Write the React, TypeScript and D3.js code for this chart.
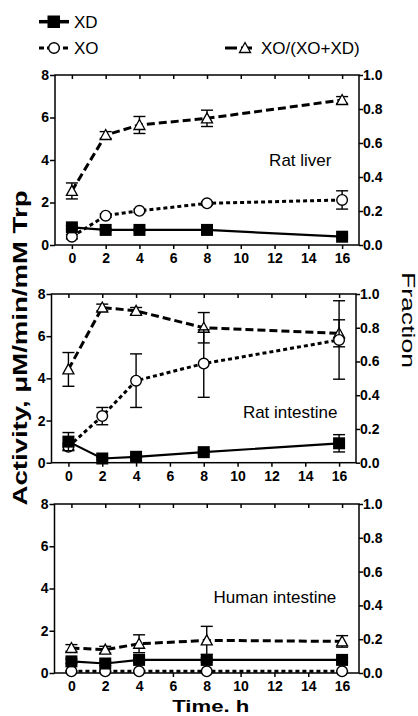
import React, { useEffect, useRef } from "react";
import * as d3 from "d3";

// time points (h) and axis ticks
const times = [0, 2, 4, 8, 16];
const xTicks = [0, 2, 4, 6, 8, 10, 12, 14, 16];
const activityTicks = [0, 2, 4, 6, 8];
const fractionTicks = [0, 0.2, 0.4, 0.6, 0.8, 1.0];

// Rat liver
const liverXD = [0.83, 0.71, 0.71, 0.71, 0.39];
const liverXDErr = [0.08, 0.05, 0.05, 0.05, 0.05];
const liverXO = [0.39, 1.38, 1.61, 1.96, 2.12];
const liverXOErr = [0.1, 0.08, 0.08, 0.08, 0.43];
const liverFrac = [0.318, 0.647, 0.706, 0.745, 0.853];
const liverFracErr = [0.047, 0.02, 0.05, 0.048, 0.02];

// Rat intestine
const ratIntXD = [1.0, 0.2, 0.28, 0.5, 0.92];
const ratIntXDErr = [0.43, 0.05, 0.05, 0.1, 0.41];
const ratIntXO = [0.76, 2.21, 3.89, 4.7, 5.82];
const ratIntXOErr = [0.15, 0.41, 1.27, 1.6, 1.86];
const ratIntFrac = [0.553, 0.92, 0.9, 0.8, 0.767];
const ratIntFracErr = [0.1, 0.02, 0.02, 0.09, 0.08];

// Human intestine
const humIntXD = [0.55, 0.45, 0.62, 0.62, 0.62];
const humIntXDErr = [0.1, 0.1, 0.1, 0.1, 0.1];
const humIntXO = [0.08, 0.08, 0.08, 0.08, 0.08];
const humIntXOErr = [0.02, 0.02, 0.02, 0.02, 0.02];
const humIntFrac = [0.148, 0.138, 0.173, 0.193, 0.187];
const humIntFracErr = [0.02, 0.02, 0.053, 0.083, 0.034];

const panelNames = ["Rat liver", "Rat intestine", "Human intestine"];

const panels = [
  {
    name: panelNames[0],
    xd: liverXD, xdErr: liverXDErr, xo: liverXO, xoErr: liverXOErr, fr: liverFrac, frErr: liverFracErr,
    box: { left: 55, right: 359, top: 75, bottom: 245 },
    labelAt: [15.37, 3.7],
    showTimeLabel: false,
  },
  {
    name: panelNames[1],
    xd: ratIntXD, xdErr: ratIntXDErr, xo: ratIntXO, xoErr: ratIntXOErr, fr: ratIntFrac, frErr: ratIntFracErr,
    box: { left: 51.5, right: 356, top: 294, bottom: 462.7 },
    labelAt: [15.9, 2.12],
    showTimeLabel: false,
  },
  {
    name: panelNames[2],
    xd: humIntXD, xdErr: humIntXDErr, xo: humIntXO, xoErr: humIntXOErr, fr: humIntFrac, frErr: humIntFracErr,
    box: { left: 54.5, right: 359, top: 504, bottom: 673 },
    labelAt: [15.66, 3.31],
    showTimeLabel: true,
  },
];

const FONT = "'Liberation Sans', Arial, Helvetica, sans-serif";

const triPath = (x: number, y: number, s = 5.5) =>
  `M${x},${y - s} L${x + s},${y + s * 0.82} L${x - s},${y + s * 0.82} Z`;

export default function App() {
  const ref = useRef<SVGSVGElement | null>(null);

  useEffect(() => {
    const svg = d3.select(ref.current);
    svg.selectAll("*").remove();

    panels.forEach((p) => {
      const { left, right, top, bottom } = p.box;
      const x = d3.scaleLinear().domain([-1, 17]).range([left, right]);
      const yA = d3.scaleLinear().domain([0, 8]).range([bottom, top]);
      const yF = d3.scaleLinear().domain([0, 1]).range([bottom, top]);

      const g = svg.append("g");

      // axes
      const styleAxis = (sel: any) => {
        sel.select(".domain").remove();
        sel.selectAll(".tick line").attr("stroke", "#000").attr("stroke-width", 1.5);
        sel.selectAll(".tick text")
          .attr("fill", "#000")
          .style("font-family", FONT)
          .style("font-weight", "bold")
          .style("font-size", "14px");
      };

      g.append("g")
        .attr("transform", `translate(${left},0)`)
        .call(d3.axisLeft(yA).tickValues(activityTicks).tickSize(5).tickPadding(1).tickFormat(d3.format("d")))
        .call(styleAxis);

      g.append("g")
        .attr("transform", `translate(${right},0)`)
        .call(d3.axisRight(yF).tickValues(fractionTicks).tickSize(4).tickPadding(0).tickFormat(d3.format(".1f")))
        .call(styleAxis);

      g.append("g")
        .attr("transform", `translate(0,${bottom})`)
        .call(d3.axisBottom(x).tickValues(xTicks).tickSize(4).tickPadding(4).tickFormat(d3.format("d")))
        .call(styleAxis);

      g.append("g")
        .attr("transform", `translate(0,${top})`)
        .call(d3.axisTop(x).tickValues(xTicks).tickSize(-4).tickFormat(() => ""))
        .call(styleAxis);

      g.append("rect")
        .attr("x", left).attr("y", top)
        .attr("width", right - left).attr("height", bottom - top)
        .attr("fill", "none").attr("stroke", "#000").attr("stroke-width", 1.5);

      const drawSeries = (
        vals: number[], errs: number[], y: d3.ScaleLinear<number, number>,
        dash: string | null, width: number, marker: "square" | "circle" | "triangle"
      ) => {
        const s = g.append("g");
        const cap = 6;
        times.forEach((t, i) => {
          const cx = x(t);
          const y1 = y(vals[i] + errs[i]);
          const y0 = y(vals[i] - errs[i]);
          s.append("line").attr("x1", cx).attr("x2", cx).attr("y1", y1).attr("y2", y0)
            .attr("stroke", "#000").attr("stroke-width", 1.4);
          [y1, y0].forEach((yy) => {
            s.append("line").attr("x1", cx - cap).attr("x2", cx + cap).attr("y1", yy).attr("y2", yy)
              .attr("stroke", "#000").attr("stroke-width", 1.4);
          });
        });

        const line = d3.line<number>().x((_, i) => x(times[i])).y((d) => y(d));
        const path = s.append("path").datum(vals).attr("d", line)
          .attr("fill", "none").attr("stroke", "#000").attr("stroke-width", width);
        if (dash) path.attr("stroke-dasharray", dash);

        times.forEach((t, i) => {
          const cx = x(t);
          const cy = y(vals[i]);
          if (marker === "square") {
            s.append("rect").attr("x", cx - 6).attr("y", cy - 6).attr("width", 12).attr("height", 12)
              .attr("fill", "#000");
          } else if (marker === "circle") {
            s.append("circle").attr("cx", cx).attr("cy", cy).attr("r", 5.3)
              .attr("fill", "#fff").attr("stroke", "#000").attr("stroke-width", 1.4);
          } else {
            s.append("path").attr("d", triPath(cx, cy))
              .attr("fill", "#fff").attr("stroke", "#000").attr("stroke-width", 1.3);
          }
        });
      };

      drawSeries(p.fr, p.frErr, yF, "8,4", 3, "triangle");
      drawSeries(p.xo, p.xoErr, yA, "4,3", 3, "circle");
      drawSeries(p.xd, p.xdErr, yA, null, 2.2, "square");

      g.append("text")
        .attr("x", x(p.labelAt[0])).attr("y", yA(p.labelAt[1]))
        .attr("text-anchor", "end")
        .style("font-family", FONT).style("font-size", "17px")
        .text(p.name);

      if (p.showTimeLabel) {
        g.append("text")
          .attr("x", (left + right) / 2 + 4).attr("y", 712)
          .attr("text-anchor", "middle")
          .attr("textLength", 77).attr("lengthAdjust", "spacingAndGlyphs")
          .style("font-family", FONT).style("font-size", "17px").style("font-weight", "bold")
          .text("Time. h");
      }
    });

    // axis titles
    svg.append("text")
      .attr("transform", "translate(27,348) rotate(-90)")
      .attr("text-anchor", "middle")
      .attr("textLength", 315).attr("lengthAdjust", "spacingAndGlyphs")
      .style("font-family", FONT).style("font-size", "20px").style("font-weight", "bold")
      .text("Activity, \u03bcM/min/mM Trp");

    svg.append("text")
      .attr("transform", "translate(402,320) rotate(90)")
      .attr("text-anchor", "middle")
      .attr("textLength", 96).attr("lengthAdjust", "spacingAndGlyphs")
      .style("font-family", FONT).style("font-size", "19px")
      .text("Fraction");

    // legend
    const leg = svg.append("g");
    const legText = (tx: number, ty: number, label: string) =>
      leg.append("text").attr("x", tx).attr("y", ty + 6)
        .style("font-family", FONT).style("font-size", "17px").text(label);

    leg.append("line").attr("x1", 39).attr("x2", 69).attr("y1", 21.7).attr("y2", 21.7)
      .attr("stroke", "#000").attr("stroke-width", 3.5);
    leg.append("rect").attr("x", 47.5).attr("y", 15.5).attr("width", 12.5).attr("height", 12.5).attr("fill", "#000");
    legText(74, 21.7, "XD");

    leg.append("line").attr("x1", 39).attr("x2", 69).attr("y1", 48).attr("y2", 48)
      .attr("stroke", "#000").attr("stroke-width", 3).attr("stroke-dasharray", "5,3");
    leg.append("circle").attr("cx", 54).attr("cy", 48).attr("r", 5.3)
      .attr("fill", "#fff").attr("stroke", "#000").attr("stroke-width", 1.4);
    legText(74, 48, "XO");

    leg.append("line").attr("x1", 225).attr("x2", 252).attr("y1", 48).attr("y2", 48)
      .attr("stroke", "#000").attr("stroke-width", 3).attr("stroke-dasharray", "12,4");
    leg.append("path").attr("d", triPath(245, 48))
      .attr("fill", "#fff").attr("stroke", "#000").attr("stroke-width", 1.3);
    legText(261, 48, "XO/(XO+XD)");
  }, []);

  return (
    <svg ref={ref} width={418} height={716} style={{ position: "absolute", left: 0, top: 0, background: "#fff" }} />
  );
}
